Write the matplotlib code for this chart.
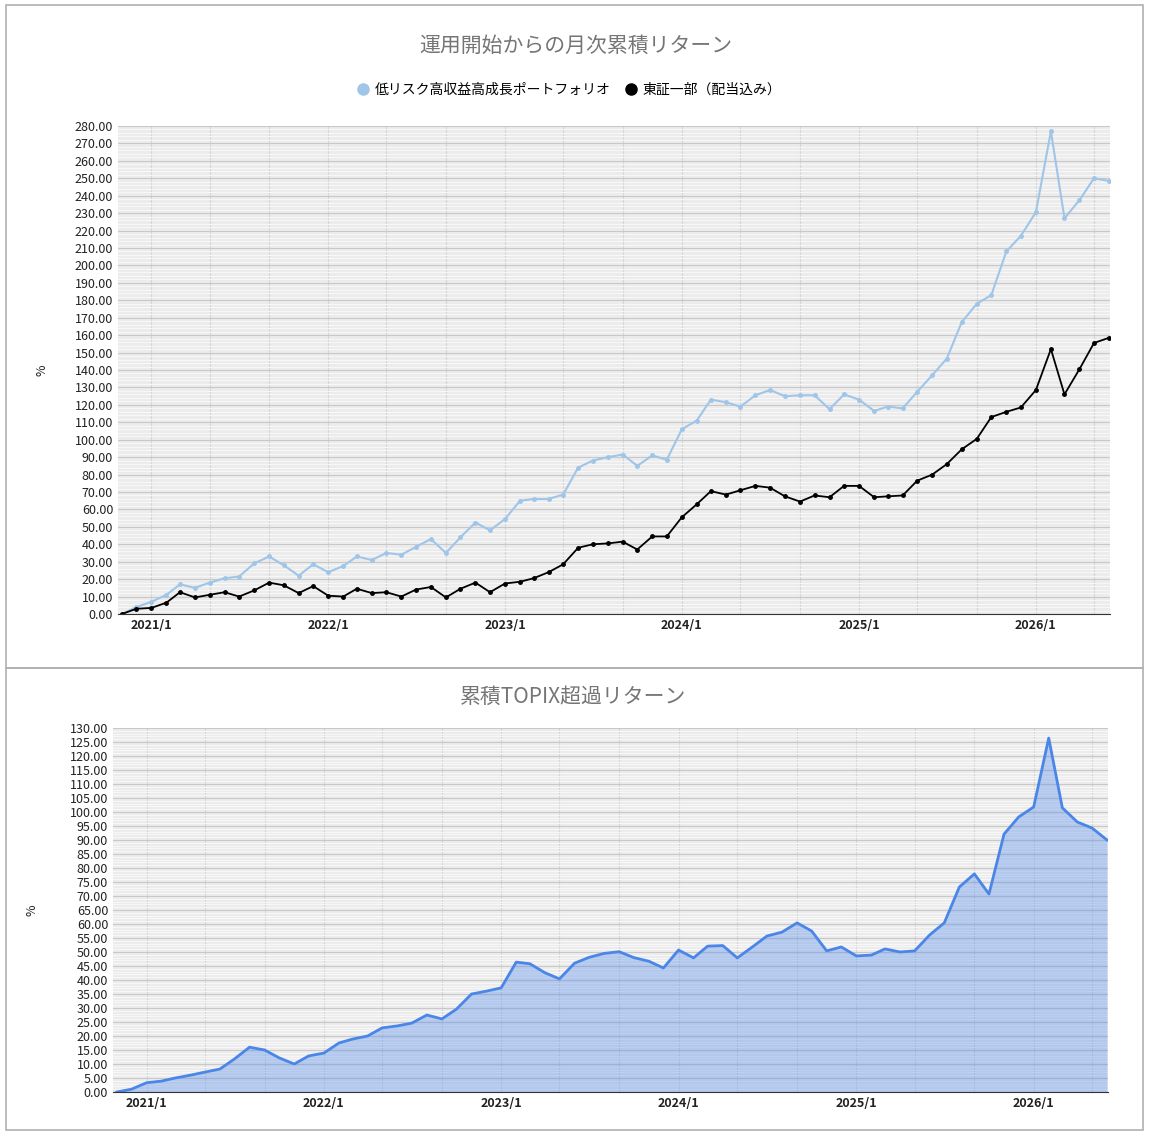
import numpy as np
import pandas as pd
import matplotlib
matplotlib.use("Agg")
import matplotlib.pyplot as plt
import matplotlib.dates as mdates
from matplotlib.ticker import MultipleLocator, FormatStrFormatter

plt.rcParams['font.family'] = ['Noto Sans CJK JP', 'DejaVu Sans']

months = pd.date_range('2020-11-01', '2026-06-01', freq='MS')

portfolio = [0, 4, 7, 11, 17, 15, 18, 20.5, 21.5, 29, 33, 28, 22, 28.5,
             24, 27.5, 33, 31, 35, 34, 38.5, 43, 35, 44, 52.5, 48,
             54.5, 65, 66, 66, 68.5, 84, 88, 90, 91.5, 85, 91, 88.5,
             106, 111, 123, 121.5, 119, 125.5, 128.5, 125, 125.5, 125.5, 117.5, 126,
             123, 116.5, 119, 118, 127.5, 137, 146.5, 167.5, 178, 183, 208, 217,
             230.5, 277, 227, 237.5, 250, 248.5]
topix = [0, 3, 3.5, 6.5, 12.5, 9.5, 11, 12.5, 10, 13.5, 18, 16.5, 12, 16,
         10.5, 10, 14.5, 12, 12.5, 10, 14, 15.5, 9.5, 14.5, 18, 12.5,
         17.5, 18.5, 20.5, 24, 28.5, 38, 40, 40.5, 41.5, 37, 44.5, 44.5,
         55.5, 63, 70.5, 68.5, 71, 73.5, 72.5, 67.5, 64.5, 68, 67, 73.5,
         73.5, 67, 67.5, 68, 76.5, 80, 86, 94.5, 100.5, 113, 116, 118.5,
         128.5, 152, 126, 140.5, 155.5, 158.5]
excess = [0, 1, 3.3, 3.9, 5, 6, 7.1, 8.2, 11.8, 16, 15, 12.2, 10, 12.9,
          13.9, 17.5, 18.9, 20, 22.9, 23.6, 24.6, 27.5, 26.1, 29.6, 35, 36,
          37.2, 46.4, 45.8, 42.6, 40.4, 46, 48.1, 49.5, 50.1, 48, 46.7, 44.3,
          50.7, 47.9, 52.1, 52.3, 47.9, 51.8, 55.7, 57.1, 60.4, 57.5, 50.4, 51.8,
          48.6, 48.9, 51.1, 50, 50.4, 56.1, 60.4, 73.2, 77.9, 70.7, 92.1, 98.2,
          101.8, 126.4, 101.5, 96.4, 94.3, 90]

fig = plt.figure(figsize=(11.52, 11.38), dpi=100)

# panel borders (top panel 5..668 px, bottom panel 668..1130 px)
for top_px, bot_px in [(5, 668), (668, 1130)]:
    fig.patches.append(plt.Rectangle((6 / 1152, 1 - bot_px / 1138), 1137 / 1152,
                                     (bot_px - top_px) / 1138, transform=fig.transFigure,
                                     fill=False, edgecolor='#b0b0b0', lw=1.2))


def style_axes(ax, ymax, major, minor, ylabel_x):
    ax.set_facecolor('#ececec')
    ax.yaxis.set_major_locator(MultipleLocator(major))
    ax.yaxis.set_minor_locator(MultipleLocator(minor))
    ax.yaxis.set_major_formatter(FormatStrFormatter('%.2f'))
    ax.xaxis.set_major_locator(mdates.MonthLocator(bymonth=1))
    ax.xaxis.set_minor_locator(mdates.MonthLocator(bymonth=[1, 5, 9]))
    ax.xaxis.set_major_formatter(mdates.DateFormatter('%Y/%-m'))
    ax.grid(which='major', axis='y', color='#c8c8c8', lw=0.8)
    ax.grid(which='minor', axis='y', color='#f8f8f8', lw=0.7)
    ax.grid(which='both', axis='x', color='#d6d6d6', lw=0.8)
    ax.set_axisbelow(True)
    ax.set_ylim(0, ymax)
    ax.set_xlim(months[0] - pd.Timedelta(days=8), months[-1] + pd.Timedelta(days=2))
    for s in ['top', 'right', 'left']:
        ax.spines[s].set_visible(False)
    ax.spines['bottom'].set_color('#333333')
    ax.tick_params(axis='both', which='both', length=0, labelsize=9, colors='#222222')
    ax.tick_params(axis='x', which='minor', labelbottom=False)
    for lab in ax.get_xticklabels():
        lab.set_fontweight('bold')
    ax.set_ylabel('%', fontsize=9, color='#222222')
    ax.yaxis.set_label_coords(ylabel_x, 0.5)


# top chart
ax1 = fig.add_axes([118 / 1152, 1 - 614 / 1138, 992 / 1152, 488 / 1138])
ax1.plot(months, portfolio, color='#9fc5e8', lw=1.5, marker='o', ms=2.5, label='低リスク高収益高成長ポートフォリオ')
ax1.plot(months, topix, color='#000000', lw=1.3, marker='o', ms=2.5, label='東証一部（配当込み）')
style_axes(ax1, 280, 10, 2, -0.07)
fig.text(576 / 1152, 1 - 46 / 1138, '運用開始からの月次累積リターン', ha='center', va='center',
         fontsize=15, color='#757575')
fig.legend(handles=ax1.get_lines(), loc='center', bbox_to_anchor=(572 / 1152, 1 - 90 / 1138),
           ncol=2, frameon=False, fontsize=10, handlelength=0, markerscale=3.2,
           handletextpad=0.8, columnspacing=1.5)
for line in fig.legends[0].get_lines():
    line.set_linestyle('none')

# bottom chart
ax2 = fig.add_axes([113 / 1152, 1 - 1092 / 1138, 995 / 1152, 364 / 1138])
ax2.fill_between(months, excess, color='#4a86e8', alpha=0.35, lw=0)
ax2.plot(months, excess, color='#4a86e8', lw=2)
style_axes(ax2, 130, 5, 1, -0.075)
fig.text(573 / 1152, 1 - 697 / 1138, '累積TOPIX超過リターン', ha='center', va='center',
         fontsize=15, color='#757575')

fig.savefig('out.png', dpi=100, facecolor='white')
